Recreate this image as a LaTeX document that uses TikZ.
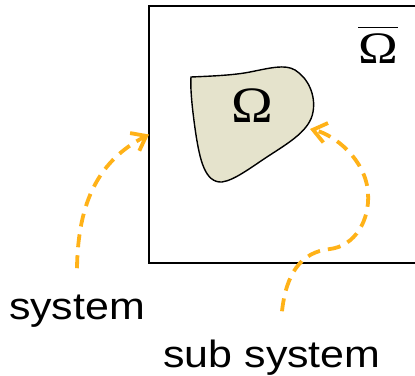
\documentclass[tikz,border=0pt]{standalone}
\usepackage{fontspec}
\setmainfont{Liberation Sans}
\newfontfamily\greekfont{Liberation Serif}
\usepackage{tikz}
\usetikzlibrary{arrows.meta,calc}
\definecolor{arrorange}{RGB}{255,178,24}
\definecolor{blobfill}{RGB}{229,227,204}

\begin{document}
\begin{tikzpicture}[x=1pt,y=-1pt,
    flow/.style={draw=arrorange,line width=3.8pt,dash pattern=on 13pt off 8pt,
      -{Straight Barb[length=13pt,width=20pt,line width=3.8pt]}},
    lbl/.style={inner sep=0pt,xscale=1.13,font=\fontsize{38}{44}\selectfont},
    omg/.style={inner sep=0pt,xscale=1.1,font=\greekfont\fontsize{51}{60}\selectfont}]
    \useasboundingbox (0,0) rectangle (415,375);
    % outer domain, runs off the right edge
    \node[draw,line width=1.8pt,outer sep=0pt,minimum width=300pt,minimum height=257pt,
      anchor=north west] (domain) at (149,6) {};
    % sub system
    \draw[line width=1.4pt,fill=blobfill] (191,77)
        .. controls (215,76) and (235,75) .. (250,72)
        .. controls (270,68) and (285,64) .. (295,70)
        .. controls (308,78) and (316,95) .. (313,112)
        .. controls (310,130) and (290,142) .. (270,155)
        .. controls (250,168) and (235,180) .. (222,182)
        .. controls (205,183) and (200,160) .. (196,135)
        .. controls (193,115) and (190,90) .. (191,77) -- cycle;
    \coordinate (blobtip) at (310,129);
    \node[omg] (inner) at (252,106) {Ω};
    \node[omg,xscale=1.08,font=\greekfont\fontsize{45}{50}\selectfont] (outer) at (378,45)
        {$\overline{\mbox{\raisebox{0pt}[\dimexpr\height+5pt\relax]{Ω}}}$};
    % labels
    \node[lbl,anchor=base] (system) at (77,319) {system};
    \node[lbl,anchor=base] (subsystem) at (272,367) {sub system};
    \draw[flow] ([yshift=26pt]system.north) .. controls (78,200) and (100,160) .. (domain.west);
    \draw[flow] ([xshift=10pt,yshift=28pt]subsystem.north)
        .. controls (286,275) and (300,252) .. (330,249)
        .. controls (355,246) and (370,220) .. (368,193)
        .. controls (366,160) and (335,135) .. (blobtip);
\end{tikzpicture}
\end{document}
